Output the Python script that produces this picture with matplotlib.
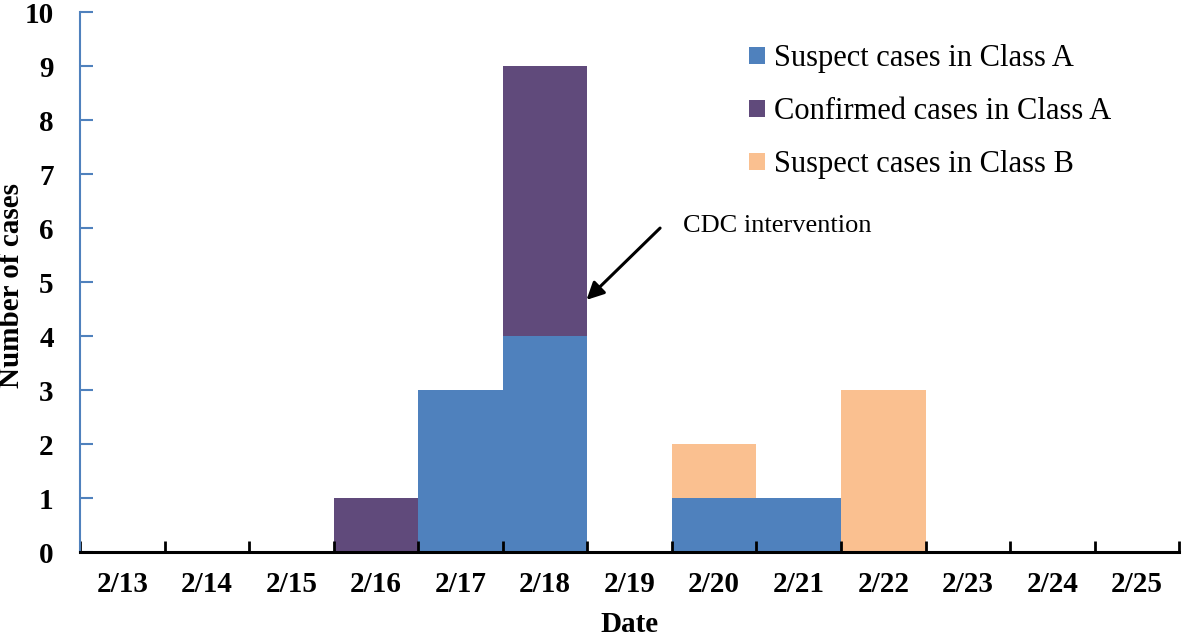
import numpy as np
import matplotlib.pyplot as plt

# data
dates = ['2/13', '2/14', '2/15', '2/16', '2/17', '2/18', '2/19',
         '2/20', '2/21', '2/22', '2/23', '2/24', '2/25']
suspect_a = [0, 0, 0, 0, 3, 4, 0, 1, 1, 0, 0, 0, 0]
confirmed_a = [0, 0, 0, 1, 0, 5, 0, 0, 0, 0, 0, 0, 0]
suspect_b = [0, 0, 0, 0, 0, 0, 0, 1, 0, 3, 0, 0, 0]
y_ticks = list(range(0, 11))

plt.rcParams['font.family'] = ['Liberation Serif', 'DejaVu Serif']

fig = plt.figure(figsize=(11.82, 6.37), dpi=100)
ax = fig.add_axes([0.0677, 0.1334, 0.93, 0.8476])

x = np.arange(len(dates))
sa = np.array(suspect_a)
ca = np.array(confirmed_a)
sb = np.array(suspect_b)

ax.bar(x, sa, width=1.0, color='#4F81BD', label='Suspect cases in Class A')
ax.bar(x, ca, width=1.0, bottom=sa, color='#604A7B', label='Confirmed cases in Class A')
ax.bar(x, sb, width=1.0, bottom=sa + ca, color='#FAC090', label='Suspect cases in Class B')

ax.set_xlim(-0.5, len(dates) - 0.5)
ax.set_ylim(0, 10)

# labels at centres, tick marks at category boundaries
ax.set_xticks(x)
ax.set_xticklabels(dates, fontsize=21, fontweight='bold')
ax.tick_params(axis='x', which='major', length=0, pad=14)
ax.set_xticks(np.arange(-0.5, len(dates)), minor=True)
ax.tick_params(axis='x', which='minor', direction='in', length=8, width=2, color='black')

ax.set_yticks(y_ticks)
ax.set_yticklabels([str(v) for v in y_ticks], fontsize=21, fontweight='bold')
ax.tick_params(axis='y', direction='in', length=9, width=1.5, color='#4F81BD', pad=19)

for s in ['top', 'right']:
    ax.spines[s].set_visible(False)
ax.spines['left'].set_color('#4F81BD')
ax.spines['left'].set_linewidth(1.5)
ax.spines['bottom'].set_color('black')
ax.spines['bottom'].set_linewidth(2.2)

ax.set_xlabel('Date', fontsize=21, fontweight='bold', va='center')
ax.xaxis.set_label_coords(0.5, -0.135)
ax.set_ylabel('Number of cases', fontsize=21, fontweight='bold', va='center')
ax.yaxis.set_label_coords(-0.062, 0.494)

ax.annotate('', xy=(5.49, 4.67), xytext=(6.36, 6.0),
            arrowprops=dict(arrowstyle='-|>', color='black', lw=2.2,
                            mutation_scale=26, shrinkA=0, shrinkB=0))
ax.text(6.63, 6.04, 'CDC intervention', fontsize=19, va='center', ha='left')

ax.legend(loc='upper left', bbox_to_anchor=(0.609, 0.94), frameon=False,
          fontsize=22, handlelength=0.5, handleheight=0.5, handletextpad=0.3,
          labelspacing=0.78, borderaxespad=0, borderpad=0)

fig.savefig('out.png', dpi=100)
